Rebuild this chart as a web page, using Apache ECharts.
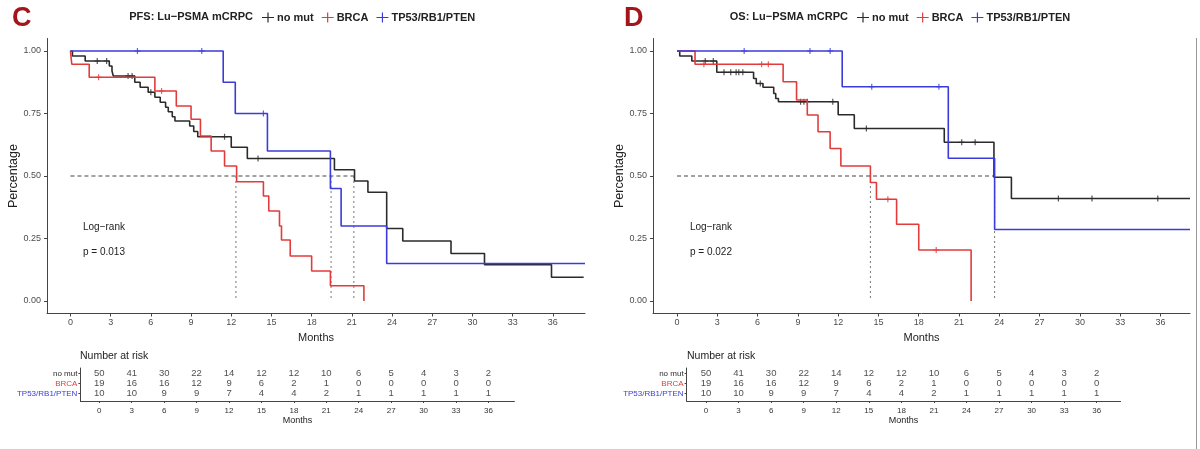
<!DOCTYPE html>
<html><head><meta charset="utf-8">
<script src="https://cdn.jsdelivr.net/npm/echarts@6/dist/echarts.min.js"></script>
<style>html,body{margin:0;padding:0;background:#fff}#c{width:1200px;height:449px}</style>
</head><body><div id="c"></div><script>
const groups = ['no mut', 'BRCA', 'TP53/RB1/PTEN'];
const colors = ['#2b2b2b', '#e23b3b', '#3b3bdc'];
const xTicks = [0, 3, 6, 9, 12, 15, 18, 21, 24, 27, 30, 33, 36];
const yTicks = [0, 0.25, 0.5, 0.75, 1];

// ---- PFS (panel C) ----
const pfsNoMutT = [0, 0.15, 1.1, 2.9, 3.1, 3.2, 4.8, 5.2, 5.8, 6.3, 6.7, 7.1, 7.3, 7.6, 7.8, 8.9, 9.2, 9.5, 12.0, 13.2, 19.7, 21.2, 22.2, 23.6, 24.8, 28.4, 30.9, 35.9];
const pfsNoMutS = [1, 0.98, 0.96, 0.94, 0.92, 0.90, 0.875, 0.855, 0.835, 0.815, 0.795, 0.775, 0.757, 0.737, 0.72, 0.70, 0.678, 0.657, 0.615, 0.57, 0.525, 0.48, 0.435, 0.29, 0.24, 0.19, 0.145, 0.095];
const pfsNoMutC = [2.0, 2.7, 4.3, 4.6, 6.0, 11.5, 14.0];
const pfsNoMutEnd = 38.3;
const pfsBrcaT = [0, 0.1, 1.4, 6.3, 7.9, 9.0, 9.7, 10.5, 11.5, 12.4, 14.4, 14.8, 15.6, 15.75, 16.4, 18.0, 19.4, 21.9];
const pfsBrcaS = [1, 0.947, 0.895, 0.84, 0.78, 0.727, 0.66, 0.60, 0.54, 0.477, 0.42, 0.36, 0.30, 0.244, 0.18, 0.12, 0.061, 0];
const pfsBrcaC = [2.1, 6.8];
const pfsBrcaEnd = null;
const pfsTpT = [0, 11.4, 12.3, 14.7, 19.4, 20.2, 23.6];
const pfsTpS = [1, 0.875, 0.75, 0.60, 0.45, 0.30, 0.15];
const pfsTpC = [5.0, 9.8, 14.4];
const pfsTpEnd = 38.4;
const pfsMedianH = 21.15;
const pfsMedians = [12.35, 19.45, 21.15];

// ---- OS (panel D) ----
const osNoMutT = [0, 0.2, 1.1, 2.96, 5.7, 5.9, 6.4, 7.2, 7.35, 7.55, 12.0, 13.2, 19.9, 23.6, 24.9];
const osNoMutS = [1, 0.98, 0.96, 0.915, 0.89, 0.87, 0.855, 0.83, 0.81, 0.797, 0.745, 0.69, 0.635, 0.495, 0.41];
const osNoMutC = [2.1, 2.7, 3.5, 4.0, 4.4, 4.6, 4.9, 6.2, 9.2, 9.45, 9.7, 11.6, 14.1, 21.2, 22.2, 28.4, 30.9, 35.8];
const osNoMutEnd = 38.2;
const osBrcaT = [0, 1.34, 7.9, 8.9, 9.7, 10.5, 11.4, 12.2, 14.4, 14.85, 16.35, 18.0, 21.9];
const osBrcaS = [1, 0.947, 0.877, 0.804, 0.744, 0.677, 0.61, 0.54, 0.474, 0.407, 0.307, 0.204, 0];
const osBrcaC = [2.0, 6.3, 6.8, 15.7, 19.3];
const osBrcaEnd = null;
const osTpT = [0, 12.3, 20.2, 23.65];
const osTpS = [1, 0.857, 0.571, 0.286];
const osTpC = [5.0, 9.9, 11.4, 14.5, 19.5];
const osTpEnd = 38.2;
const osMedianH = 23.65;
const osMedians = [14.4, 23.65];

// ---- Number at risk ----
const riskTimes = [0, 3, 6, 9, 12, 15, 18, 21, 24, 27, 30, 33, 36];
const riskNoMut = [50, 41, 30, 22, 14, 12, 12, 10, 6, 5, 4, 3, 2];
const riskBrca  = [19, 16, 16, 12, 9, 6, 2, 1, 0, 0, 0, 0, 0];
const riskTp    = [10, 10, 9, 9, 7, 4, 4, 2, 1, 1, 1, 1, 1];

const FONT = "'Liberation Sans', Arial, sans-serif";
const PLUS = 'path://M4,0H6V4H10V6H6V10H4V6H0V4H4Z';
const KEY = 'path://M0,4.4H5.4V0H6.6V4.4H12V5.6H6.6V10H5.4V5.6H0Z';

function survAt(T, S, t) { let s = 1; for (let i = 0; i < T.length; i++) if (T[i] <= t) s = S[i]; return s; }

function km(gi, T, S, C, endT, panel) {
  const data = T.map((t, i) => [t, S[i]]);
  if (endT != null) data.push([endT, S[S.length - 1]]);
  return [
    { type: 'line', name: groups[gi], xAxisIndex: panel, yAxisIndex: panel, data, step: 'end', symbol: 'none',
      lineStyle: { color: colors[gi], width: 1.6 }, itemStyle: { color: colors[gi] }, z: 3 + gi, silent: true },
    { type: 'scatter', name: groups[gi], xAxisIndex: panel, yAxisIndex: panel, symbol: PLUS, symbolSize: 6,
      data: C.map(t => [t, survAt(T, S, t)]), itemStyle: { color: colors[gi] }, z: 3 + gi, silent: true }
  ];
}
function medians(h, vs, panel) {
  const out = [{ type: 'line', name: 'median', xAxisIndex: panel, yAxisIndex: panel, data: [[0, 0.5], [h, 0.5]], symbol: 'none',
    lineStyle: { color: '#444', width: 1, type: [4, 3] }, z: 2, silent: true }];
  vs.forEach(v => out.push({ type: 'line', name: 'median', xAxisIndex: panel, yAxisIndex: panel, data: [[v, 0.5], [v, 0]], symbol: 'none',
    lineStyle: { color: '#777', width: 1, type: [2, 3] }, z: 2, silent: true }));
  return out;
}
function riskSeries(panel) {
  const rows = [riskNoMut, riskBrca, riskTp];
  const data = [];
  rows.forEach((r, gi) => r.forEach((n, i) => data.push([riskTimes[i], gi, n])));
  return { type: 'scatter', name: 'risk', xAxisIndex: panel, yAxisIndex: panel, data, symbolSize: 1,
    itemStyle: { color: 'rgba(0,0,0,0)' }, silent: true,
    label: { show: true, position: 'inside', formatter: p => String(p.value[2]), fontSize: 9.5, color: '#222', fontFamily: FONT } };
}

const axisCol = '#444';
function mainX(i, min, max) {
  return { gridIndex: i, type: 'value', min, max,
    axisLine: { show: true, onZero: false, lineStyle: { color: axisCol, width: 1 } },
    axisTick: { show: true, customValues: xTicks, length: 3, lineStyle: { color: axisCol } },
    axisLabel: { customValues: xTicks, fontSize: 9, color: '#4d4d4d', margin: 5, fontFamily: FONT },
    splitLine: { show: false },
    name: 'Months', nameLocation: 'middle', nameGap: 12, nameTextStyle: { fontSize: 11, color: '#222', fontFamily: FONT } };
}
function mainY(i) {
  return { gridIndex: i, type: 'value', min: -0.05, max: 1.05,
    axisLine: { show: true, onZero: false, lineStyle: { color: axisCol, width: 1 } },
    axisTick: { show: true, customValues: yTicks, length: 3, lineStyle: { color: axisCol } },
    axisLabel: { customValues: yTicks, fontSize: 9, color: '#4d4d4d', margin: 6, formatter: v => Number(v).toFixed(2), fontFamily: FONT },
    splitLine: { show: false },
    name: 'Percentage', nameLocation: 'middle', nameGap: 26, nameTextStyle: { fontSize: 12.5, color: '#222', fontFamily: FONT } };
}
function tabX(i, min, max) {
  return { gridIndex: i, type: 'value', min, max,
    axisLine: { show: true, onZero: false, lineStyle: { color: axisCol, width: 1 } },
    axisTick: { show: true, customValues: xTicks, length: 2, lineStyle: { color: axisCol } },
    axisLabel: { customValues: xTicks, fontSize: 8, color: '#333', margin: 6, fontFamily: FONT },
    splitLine: { show: false },
    name: 'Months', nameLocation: 'middle', nameGap: 15, nameTextStyle: { fontSize: 9, color: '#222', fontFamily: FONT } };
}
function tabY(i) {
  return { gridIndex: i, type: 'value', inverse: true, min: -0.53, max: 2.77,
    axisLine: { show: true, onZero: false, lineStyle: { color: axisCol, width: 1 } },
    axisTick: { show: true, customValues: [0, 1, 2], length: 2, lineStyle: { color: axisCol } },
    axisLabel: { customValues: [0, 1, 2], fontSize: 8, margin: 3, fontFamily: FONT,
      formatter: v => groups[Math.round(Number(v))], color: v => colors[Math.round(Number(v))] },
    splitLine: { show: false } };
}

const series = [].concat(
  medians(pfsMedianH, pfsMedians, 0),
  km(0, pfsNoMutT, pfsNoMutS, pfsNoMutC, pfsNoMutEnd, 0),
  km(1, pfsBrcaT, pfsBrcaS, pfsBrcaC, pfsBrcaEnd, 0),
  km(2, pfsTpT, pfsTpS, pfsTpC, pfsTpEnd, 0),
  medians(osMedianH, osMedians, 1),
  km(0, osNoMutT, osNoMutS, osNoMutC, osNoMutEnd, 1),
  km(1, osBrcaT, osBrcaS, osBrcaC, osBrcaEnd, 1),
  km(2, osTpT, osTpS, osTpC, osTpEnd, 1),
  [riskSeries(2), riskSeries(3)]
);

const legendBase = { top: 7, data: groups, icon: KEY, itemWidth: 12, itemHeight: 10, itemGap: 8, selectedMode: false,
  textStyle: { fontSize: 11, fontWeight: 'bold', color: '#222', fontFamily: FONT, padding: [0, 0, 0, -2] } };

const txt = (x, y, text, size, extra) => ({ type: 'text', x, y, silent: true,
  style: Object.assign({ text, fontSize: size, fontFamily: FONT, fill: '#222', verticalAlign: 'middle' }, extra || {}) });

const chart = echarts.init(document.getElementById('c'), null, { renderer: 'canvas' });
chart.setOption({
  animation: false,
  backgroundColor: '#fff',
  textStyle: { fontFamily: FONT },
  grid: [
    { left: 47, top: 38.5, width: 538, height: 275, containLabel: false, outerBoundsMode: 'none' },
    { left: 653, top: 38.5, width: 537, height: 275, containLabel: false, outerBoundsMode: 'none' },
    { left: 80.4, top: 368, width: 434, height: 33, containLabel: false, outerBoundsMode: 'none' },
    { left: 686.6, top: 368, width: 434, height: 33, containLabel: false, outerBoundsMode: 'none' }
  ],
  xAxis: [mainX(0, -1.75, 38.4), mainX(1, -1.79, 38.2), tabX(2, -1.75, 38.4), tabX(3, -1.79, 38.2)],
  yAxis: [mainY(0), mainY(1), tabY(2), tabY(3)],
  legend: [Object.assign({ left: 257 }, legendBase), Object.assign({ left: 852 }, legendBase)],
  graphic: [
    txt(12, 19, 'C', 27, { fontWeight: 'bold', fill: '#a3151b' }),
    txt(624, 19, 'D', 27, { fontWeight: 'bold', fill: '#a3151b' }),
    txt(253, 17, 'PFS: Lu\u2212PSMA mCRPC', 11, { fontWeight: 'bold', align: 'right' }),
    txt(848, 17, 'OS: Lu\u2212PSMA mCRPC', 11, { fontWeight: 'bold', align: 'right' }),
    txt(83, 227, 'Log\u2212rank', 10),
    txt(83, 252, 'p = 0.013', 10),
    txt(690, 227, 'Log\u2212rank', 10),
    txt(690, 252, 'p = 0.022', 10),
    txt(80, 356, 'Number at risk', 10.5),
    txt(687, 356, 'Number at risk', 10.5),
    { type: 'line', silent: true, shape: { x1: 1196.5, y1: 38, x2: 1196.5, y2: 449 }, style: { stroke: '#999', lineWidth: 1 } }
  ],
  series
});
</script></body></html>
